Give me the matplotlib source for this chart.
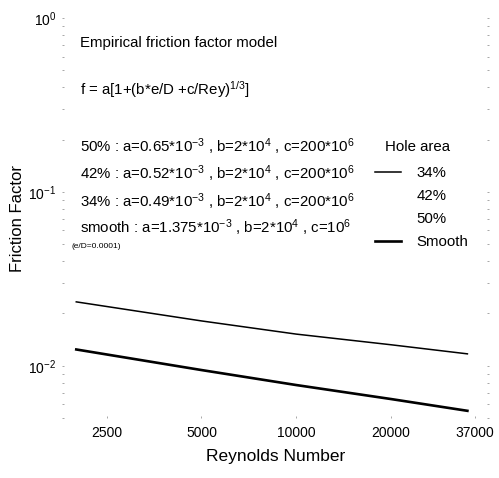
import matplotlib
matplotlib.use("Agg")
import matplotlib.pyplot as plt
import matplotlib.ticker as mticker
from matplotlib.lines import Line2D

plt.rcParams['font.family'] = ['Liberation Sans', 'DejaVu Sans']
plt.rcParams['mathtext.fontset'] = 'custom'
plt.rcParams['mathtext.rm'] = 'Liberation Sans'
plt.rcParams['mathtext.it'] = 'Liberation Sans:italic'

# values
reynolds = [2000, 5000, 10000, 20000, 35000]
f_34 = [0.0233, 0.0181, 0.0152, 0.0132, 0.0117]
f_smooth = [0.0124, 0.00944, 0.00774, 0.00643, 0.0055]
xticks = [2500, 5000, 10000, 20000, 37000]
xticklabels = ["2500", "5000", "10000", "20000", "37000"]
legend_labels = ['34%', '42%', '50%', 'Smooth']

fig = plt.figure(figsize=(4.99, 4.78), dpi=100)
ax = fig.add_axes([0.124, 0.1255, 0.856, 0.8365])

ax.plot(reynolds, f_34, color='black', lw=1.1, label='34%')
ax.plot(reynolds, f_smooth, color='black', lw=1.9, label='Smooth')

ax.set_xscale('log')
ax.set_yscale('log')
ax.set_xlim(1800, 41000)
ax.set_ylim(0.005, 1)
ax.set_xticks(xticks)
ax.set_xticklabels(xticklabels)
ax.minorticks_off()
ax.set_yticks([1, 0.1, 0.01])
ax.yaxis.set_minor_locator(mticker.LogLocator(subs=range(2, 10)))
ax.yaxis.set_minor_formatter(mticker.NullFormatter())

for s in ax.spines.values():
    s.set_visible(False)
ax.tick_params(which='both', length=1.5, width=0.6, color='#999999',
               labelsize=10, pad=4, right=True, direction='in')
ax.tick_params(axis='x', pad=6)

ax.set_xlabel("Reynolds Number", fontsize=12.5, labelpad=6)
ax.set_ylabel("Friction Factor", fontsize=12, labelpad=2)

fs = 10.8
tx = 0.042
ax.text(tx, 0.9375, "Empirical friction factor model", transform=ax.transAxes, va='center', fontsize=fs)
ax.text(tx, 0.822, r"f = a[1+(b*e/D +c/Rey)$^{1/3}$]", transform=ax.transAxes, va='center', fontsize=fs)
ax.text(tx, 0.678, r"50% : a=0.65*10$^{-3}$ , b=2*10$^{4}$ , c=200*10$^{6}$", transform=ax.transAxes, va='center', fontsize=fs)
ax.text(tx, 0.61, r"42% : a=0.52*10$^{-3}$ , b=2*10$^{4}$ , c=200*10$^{6}$", transform=ax.transAxes, va='center', fontsize=fs)
ax.text(tx, 0.54, r"34% : a=0.49*10$^{-3}$ , b=2*10$^{4}$ , c=200*10$^{6}$", transform=ax.transAxes, va='center', fontsize=fs)
ax.text(tx, 0.475, r"smooth : a=1.375*10$^{-3}$ , b=2*10$^{4}$ , c=10$^{6}$", transform=ax.transAxes, va='center', fontsize=fs)
ax.text(0.023, 0.43, "(e/D=0.0001)", transform=ax.transAxes, va='center', fontsize=6)

ax.text(0.757, 0.6775, "Hole area", transform=ax.transAxes, va='center', fontsize=fs)
h = ax.get_lines()
handles = [h[0], Line2D([], [], color='none'), Line2D([], [], color='none'), h[1]]
ax.legend(handles, legend_labels, loc='upper left', bbox_to_anchor=(0.733, 0.63),
          frameon=False, fontsize=fs, borderpad=0, borderaxespad=0,
          handlelength=1.75, handletextpad=1.0, labelspacing=0.6)

fig.savefig("out.png", dpi=100)
